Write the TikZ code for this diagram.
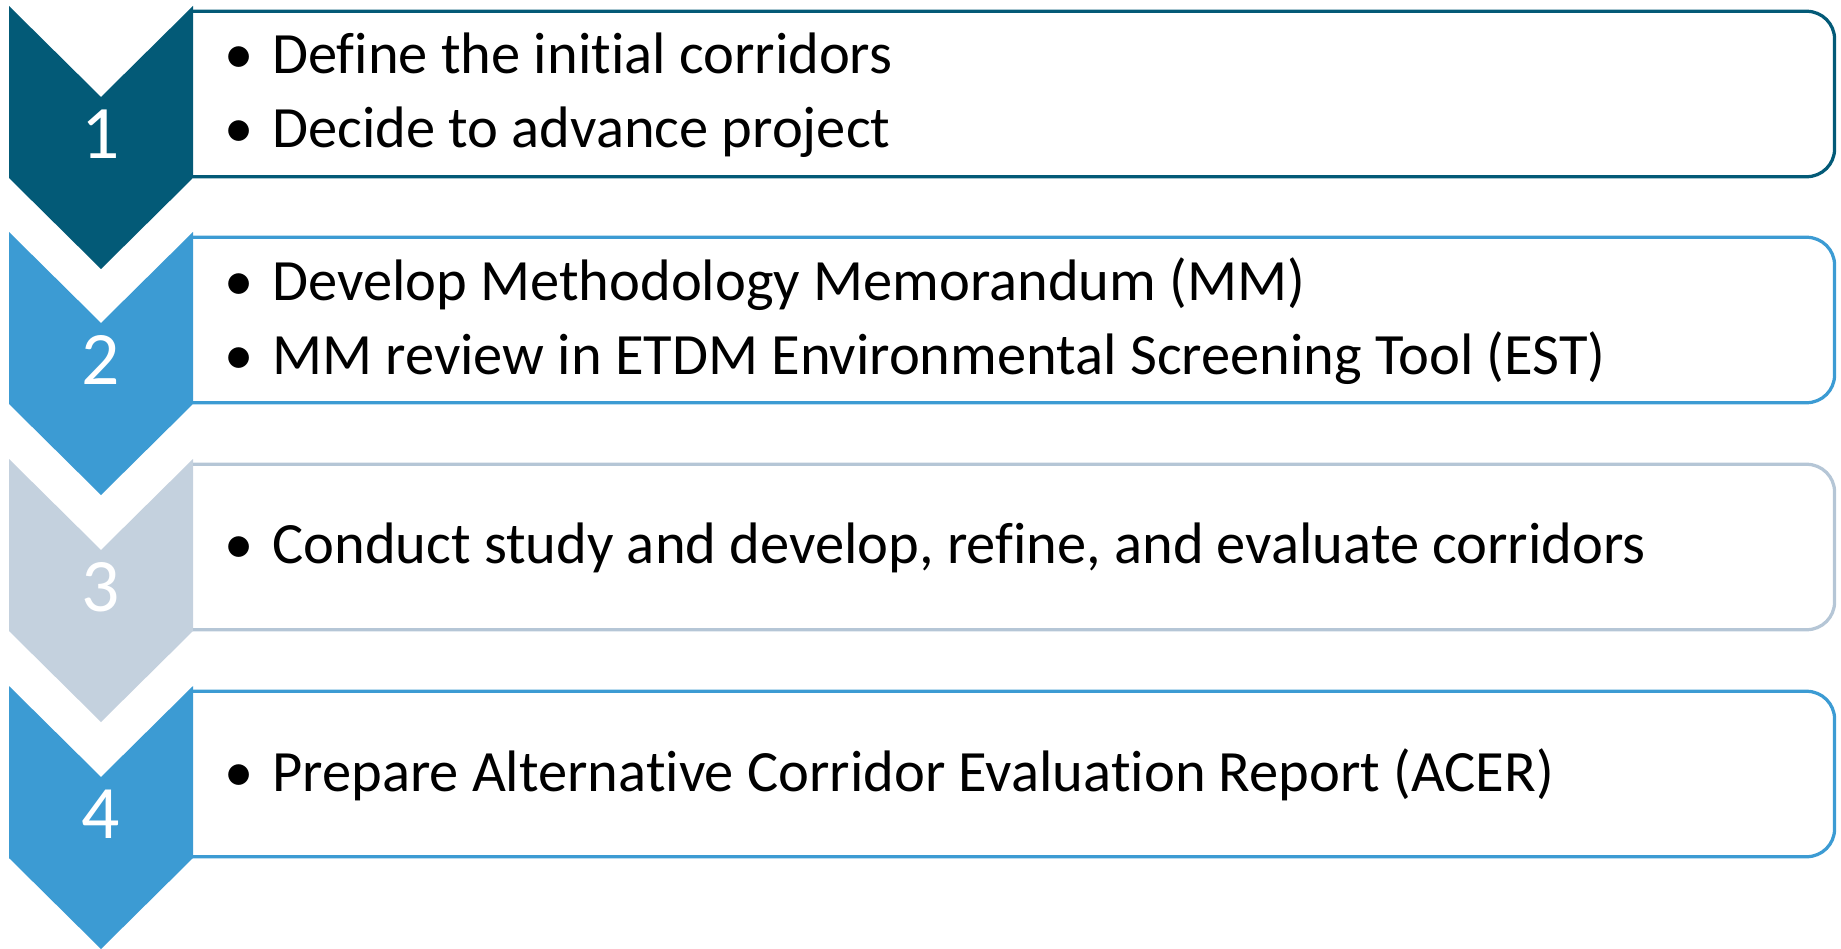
\documentclass[tikz,border=0pt]{standalone}
\usepackage{fontspec}
\setmainfont[Ligatures=NoCommon]{Carlito}
\definecolor{stepdark}{RGB}{3,90,119}
\definecolor{stepblue}{RGB}{60,155,211}
\definecolor{stepgray}{RGB}{196,209,222}
\definecolor{linegray}{RGB}{181,198,214}
\tikzset{
  stepbox/.style={draw=#1, line width=1.85pt, rounded corners=15.9pt,
    minimum width=34.03cm, minimum height=3.31cm, inner sep=0pt},
  stepnum/.style={text=white, inner sep=0pt, font=\fontsize{43pt}{43pt}\selectfont},
  items/.style={anchor=west, align=left, inner sep=0pt, font=\fontsize{33.3pt}{42.4pt}\selectfont},
}
\newcommand{\bul}{\makebox[27.3pt][l]{\textbullet}}
\begin{document}
\begin{tikzpicture}[x=0.02cm, y=-0.02cm]
\useasboundingbox (0,0) rectangle (1841,949);
% chevrons
\fill[stepdark] (9,6) -- (101,97) -- (193,6) -- (193,178) -- (101,269) -- (9,178) -- cycle;
\fill[stepblue] (9,232) -- (101,323) -- (193,232) -- (193,404) -- (101,495) -- (9,404) -- cycle;
\fill[stepgray] (9,459) -- (101,550) -- (193,459) -- (193,631) -- (101,722) -- (9,631) -- cycle;
\fill[stepblue] (9,686) -- (101,777) -- (193,686) -- (193,858) -- (101,949) -- (9,858) -- cycle;
\node[stepnum] (n1) at (101,134) {1};
\node[stepnum] (n2) at (101,360) {2};
\node[stepnum] (n3) at (101,587) {3};
\node[stepnum] (n4) at (101,814) {4};
% boxes, left side hidden behind the chevrons
\begin{scope}
\clip (193,0) rectangle (1841,949);
\node[stepbox=stepdark] (b1) at (984,94) {};
\node[stepbox=stepblue] (b2) at (984,320) {};
\node[stepbox=linegray] (b3) at (984,547) {};
\node[stepbox=stepblue] (b4) at (984,774) {};
\end{scope}
\node[items] (t1) at (224,95) {\bul Define the initial corridors\\ \bul Decide to advance project};
\node[items] (t2) at (224,321) {\bul Develop Methodology Memorandum (MM)\\ \bul MM review in ETDM Environmental Screening Tool (EST)};
\node[items] (t3) at (224,548) {\bul Conduct study and develop, refine, and evaluate corridors};
\node[items] (t4) at (224,775) {\bul Prepare Alternative Corridor Evaluation Report (ACER)};
\end{tikzpicture}
\end{document}
